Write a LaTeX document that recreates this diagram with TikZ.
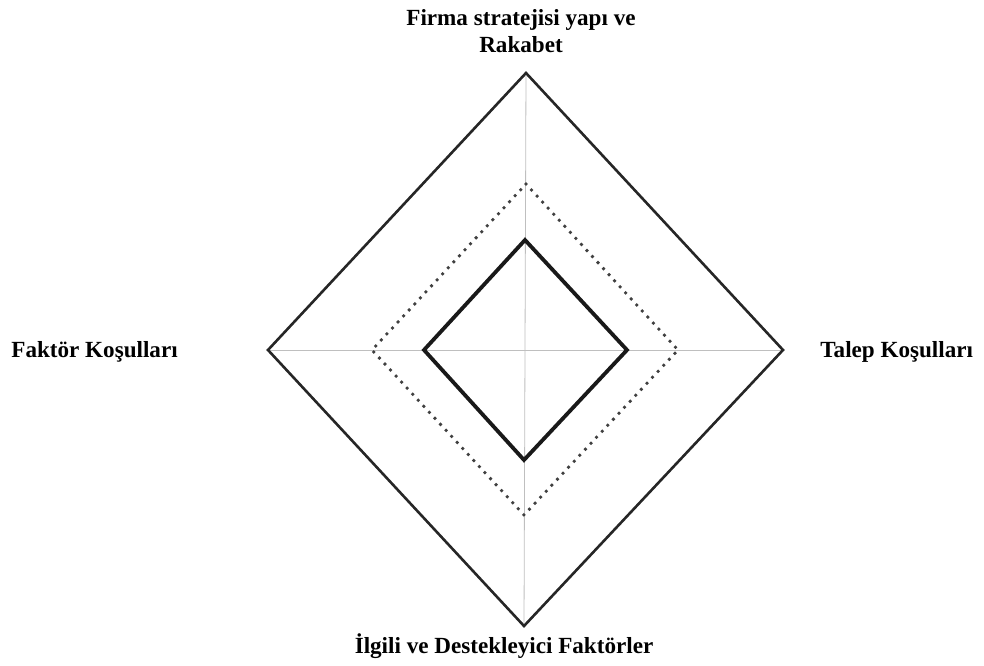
\documentclass[tikz,border=0pt]{standalone}
\usepackage{fontspec}
\setmainfont{Liberation Serif}
\usepackage{tikz}
\usetikzlibrary{positioning}

\tikzset{
    label/.style={font=\fontsize{11.6}{13.8}\selectfont\bfseries, align=center, inner sep=0pt},
    axis/.style={draw=black!25, line width=0.4bp},
    outer/.style={draw=black!85, line width=1.3bp, line join=miter},
    dots/.style={draw=black!75, line width=1.9bp, line cap=round, dash pattern=on 0pt off 4.1bp},
    inner/.style={draw=black!90, line width=1.9bp, line join=miter}
}

\begin{document}
\begin{tikzpicture}[x=0.5bp, y=-0.5bp]
            \useasboundingbox (0, 0) rectangle (984, 666);

            % corners
            \coordinate (OT) at (526, 73);
            \coordinate (OB) at (524, 626);
            \coordinate (OL) at (268, 350);
            \coordinate (OR) at (783, 350);

            \coordinate (DT) at (526, 184);
            \coordinate (DB) at (524, 515);
            \coordinate (DL) at (372, 350);
            \coordinate (DR) at (678, 350);

            \coordinate (IT) at (525, 240);
            \coordinate (IB) at (524, 460);
            \coordinate (IL) at (424, 350);
            \coordinate (IR) at (627, 350);

            \node[label] (firma) at (521, 31) {Firma stratejisi yapı ve\\Rakabet};
            \node[label] (ilgili) at (504, 646) {İlgili ve Destekleyici Faktörler};
            \node[label, anchor=west] (faktor) at (11, 352) {Faktör Koşulları};
            \node[label, anchor=west] (talep) at (820, 352) {Talep Koşulları};

            \draw [axis] (OT) -- (OB);
            \draw [axis] (OL) -- (OR);

            \draw [outer] (OT) -- (OR) -- (OB) -- (OL) -- cycle;
            \draw [dots] (DT) -- (DR) -- (DB) -- (DL) -- cycle;
            \draw [inner] (IT) -- (IR) -- (IB) -- (IL) -- cycle;
        \end{tikzpicture}
\end{document}
